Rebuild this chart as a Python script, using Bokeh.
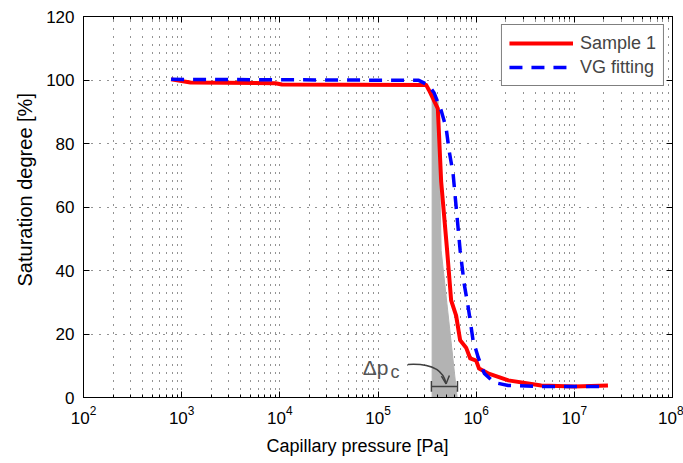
import math
from bokeh.plotting import figure
from bokeh.models import (FixedTicker, LogAxis, LinearAxis, Label, Legend, LegendItem,
                          Arrow, OpenHead, Range1d, Title)
from bokeh.embed import file_html
from bokeh.resources import INLINE
from bokeh.core.properties import value

# ---------------- data ----------------
pressure_sample = [780, 1230, 9000, 10500, 3.1e5, 3.32e5, 4.07e5, 4.4e5, 5.06e5, 5.56e5,
                   6.25e5, 6.87e5, 7.9e5, 8.7e5, 1.0e6, 1.07e6, 1.32e6, 2.13e6, 4.6e6,
                   1.0e7, 2.2e7]
sat_sample = [100.2, 99.2, 99.0, 98.6, 98.4, 96.7, 91.0, 68.0, 46.3, 30.6,
              25.8, 18.0, 15.7, 12.3, 11.6, 9.1, 7.6, 5.4, 3.8,
              3.5, 3.8]

pressure_vg = [780, 2.6e5, 3.3e5, 3.72e5, 4.4e5, 4.94e5, 5.3e5, 5.82e5, 6.87e5, 7.55e5,
               8.3e5, 9.3e5, 1.05e6, 1.21e6, 1.53e6, 2.12e6, 4.6e6, 2.2e7]
sat_vg = [100.2, 99.9, 98.3, 96.0, 90.4, 85.0, 77.8, 70.5, 46.3, 35.8,
          28.4, 18.0, 12.6, 7.6, 4.7, 3.8, 3.5, 3.5]

shade_p = [3.56e5, 4.09e5, 4.4e5, 6.4e5, 3.56e5]
shade_s = [95.7, 93.5, 46.3, 0.0, 0.0]

dp_bracket_p = [3.5e5, 6.45e5]
dp_bracket_s = 3.5

x_major = [1e2, 1e3, 1e4, 1e5, 1e6, 1e7, 1e8]
x_minor = [k * 10 ** d for d in range(2, 8) for k in range(2, 10)]
y_major = [0, 20, 40, 60, 80, 100, 120]

FONT = "Liberation Sans"

p = figure(width=683, height=463, x_axis_type="log",
           x_range=Range1d(1e2, 1e8), y_range=Range1d(0, 120),
           output_backend="svg", toolbar_location=None,
           min_border_left=83, min_border_right=11, min_border_top=16, min_border_bottom=66)
p.background_fill_color = "white"
p.border_fill_color = "white"
p.outline_line_color = "black"
p.outline_line_width = 1

xt = FixedTicker(ticks=x_major, minor_ticks=x_minor)
yt = FixedTicker(ticks=y_major, minor_ticks=[])

for ax in [p.xaxis[0], p.yaxis[0]]:
    ax.axis_line_color = "black"
    ax.major_tick_in = 6
    ax.major_tick_out = 0
    ax.minor_tick_in = 3
    ax.minor_tick_out = 0
    ax.major_tick_line_color = "black"
    ax.minor_tick_line_color = "black"
    ax.major_label_text_font = FONT
    ax.major_label_text_font_size = "17px"
    ax.major_label_text_color = "black"
p.xaxis[0].ticker = xt
p.yaxis[0].ticker = yt
p.xaxis[0].major_label_standoff = 8
p.yaxis[0].major_label_standoff = 9

top = LogAxis(ticker=xt, major_label_text_font_size="2px", major_label_text_alpha=0,
              major_label_standoff=0,
              major_tick_in=6, major_tick_out=0, minor_tick_in=3, minor_tick_out=0)
right = LinearAxis(ticker=yt, major_label_text_font_size="2px", major_label_text_alpha=0,
                   major_label_standoff=0,
                   major_tick_in=6, major_tick_out=0, minor_tick_in=0, minor_tick_out=0)
p.add_layout(top, "above")
p.add_layout(right, "right")

p.xgrid.ticker = xt
p.ygrid.ticker = yt
for g in [p.xgrid[0], p.ygrid[0]]:
    g.grid_line_color = "black"
    g.grid_line_dash = "1 7"
    g.grid_line_width = 1
    g.grid_line_alpha = 0.85
p.xgrid.minor_grid_line_color = "black"
p.xgrid.minor_grid_line_dash = "1 7"
p.xgrid.minor_grid_line_alpha = 0.85

# shaded region
p.patch(shade_p, shade_s, fill_color="#b3b3b3", line_color="#b3b3b3", line_width=1)

r_red = p.line(pressure_sample, sat_sample, line_color="#ff0000", line_width=4,
               line_join="round")
r_blue = p.line(pressure_vg, sat_vg, line_color="#0000ff", line_width=3.5,
                line_dash="13 9")

# delta p annotation
ANN = "#404040"
p.segment(x0=[dp_bracket_p[0]], y0=[dp_bracket_s], x1=[dp_bracket_p[1]], y1=[dp_bracket_s],
          line_color=ANN, line_width=1.5)
p.segment(x0=dp_bracket_p, y0=[dp_bracket_s - 1.7] * 2, x1=dp_bracket_p,
          y1=[dp_bracket_s + 1.7] * 2, line_color=ANN, line_width=1.5)
p.quadratic(x0=[2.02e5], y0=[10.4], x1=[4.94e5], y1=[4.3], cx=[4.5e5], cy=[11.0],
            line_color=ANN, line_width=1.5)
p.add_layout(Arrow(end=OpenHead(size=8, line_color=ANN, line_width=1.5),
                   x_start=4.86e5, y_start=6.8, x_end=4.94e5, y_end=4.3, line_alpha=0))
p.add_layout(Label(x=7.0e4, y=9.4, text="Δp", text_font=FONT, text_font_size="21px",
                   text_color="#555555", text_baseline="alphabetic"))
p.add_layout(Label(x=1.34e5, y=7.9, text="c", text_font=FONT, text_font_size="18px",
                   text_color="#555555", text_baseline="alphabetic"))

# axis labels (as side titles so they are not clipped)
xlab = Title(text="Capillary pressure [Pa]", align="left", offset=183, standoff=14,
             text_font=FONT, text_font_size="18px", text_font_style="normal",
             text_color="black")
ylab = Title(text="Saturation degree [%]", align="left", offset=111, standoff=16,
             text_font=FONT, text_font_size="20px", text_font_style="normal",
             text_color="black")
p.add_layout(xlab, "below")
p.add_layout(ylab, "left")

legend = Legend(items=[LegendItem(label="Sample 1", renderers=[r_red]),
                       LegendItem(label="VG fitting", renderers=[r_blue])],
                location="top_right")
legend.border_line_color = "black"
legend.border_line_width = 1
legend.background_fill_color = "white"
legend.background_fill_alpha = 1
legend.label_text_font = FONT
legend.label_text_font_size = "18px"
legend.glyph_width = 64
legend.glyph_height = 22
legend.label_height = 22
legend.spacing = 2
legend.padding = 7
legend.margin = 8
legend.label_standoff = 7
p.add_layout(legend)

open("out.html", "w").write(file_html(p, INLINE))
